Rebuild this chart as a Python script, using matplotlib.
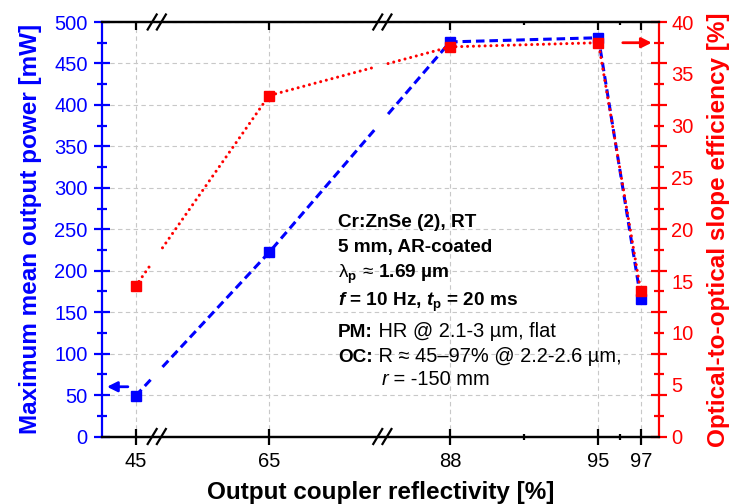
import numpy as np
import matplotlib
matplotlib.use("Agg")
import matplotlib.pyplot as plt
from matplotlib.ticker import FixedLocator, FixedFormatter, MultipleLocator

plt.rcParams['font.family'] = ['Liberation Sans', 'DejaVu Sans']
plt.rcParams['mathtext.fontset'] = 'custom'
plt.rcParams['mathtext.rm'] = 'Liberation Sans'
plt.rcParams['mathtext.it'] = 'Liberation Sans:italic'
plt.rcParams['mathtext.bf'] = 'Liberation Sans:bold'
plt.rcParams['mathtext.bfit'] = 'Liberation Sans:bold:italic'

# data
reflectivity = [45, 65, 88, 95, 97]
power_mw = [49, 222, 476, 481, 166]
efficiency = [14.5, 32.9, 37.6, 38.0, 14.0]
x_tick_labels = ["45", "65", "88", "95", "97"]
x_minor = [91.5, 96]
# visible pieces of the broken x axis
segments = [(43.4, 46.0), (59.7, 70.35), (84.8, 97.86)]

BLUE = "#0000ff"
RED = "#ff0000"

# piecewise scale for the broken axis
xp, fp, breaks = [], [], []
pos = 0.0
for lo, hi in segments:
    xp += [lo, hi]
    fp += [pos, pos + hi - lo]
    pos += hi - lo
    breaks.append(pos)
    pos += 1e-6
breaks = breaks[:-1]


def fwd(x):
    return np.interp(x, xp, fp)


def inv(p):
    return np.interp(p, fp, xp)


def with_gaps(x, y, g=0.27):
    px = fwd(np.asarray(x, float))
    xs, ys = [x[0]], [y[0]]
    for i in range(1, len(x)):
        for b in breaks:
            if px[i - 1] < b - g and px[i] > b + g:
                for k, p in enumerate((b - g, b + g)):
                    t = (p - px[i - 1]) / (px[i] - px[i - 1])
                    xs.append(inv(p))
                    ys.append(y[i - 1] + t * (y[i] - y[i - 1]))
                    if k == 0:
                        xs.append(np.nan)
                        ys.append(np.nan)
        xs.append(x[i])
        ys.append(y[i])
    return xs, ys


fig = plt.figure(figsize=(7.3, 5.04), dpi=100)
ax = fig.add_axes([101.7 / 730, 1 - 436.5 / 504, 557.3 / 730, 414.5 / 504])
ax.set_xscale('function', functions=(fwd, inv))
ax.set_xlim(segments[0][0], segments[-1][1])
ax.set_ylim(0, 500)
ax2 = ax.twinx()
ax2.set_ylim(0, 40)
ax3 = ax.twinx()   # only carries the red tick labels
ax3.set_ylim(0, 40)

# lines
bx, by = with_gaps(reflectivity, power_mw)
ax.plot(bx, by, color=BLUE, lw=2.2, dashes=(2.8, 1.6))
ax.plot(reflectivity, power_mw, ls='none', marker='s', ms=6.5, color=BLUE)
rx, ry = with_gaps(reflectivity, efficiency)
ax2.plot(rx, ry, color=RED, lw=2.2, dashes=(0.01, 1.9), dash_capstyle='round')
ax2.plot(reflectivity, efficiency, ls='none', marker='s', ms=6.5, color=RED)

# ticks
ax.xaxis.set_major_locator(FixedLocator(reflectivity))
ax.xaxis.set_major_formatter(FixedFormatter(x_tick_labels))
ax.xaxis.set_minor_locator(FixedLocator(x_minor))
ax.yaxis.set_major_locator(MultipleLocator(50))
ax.yaxis.set_minor_locator(MultipleLocator(25))
# red tick marks follow the left axis grid, labels sit at 5 % steps
ax2.yaxis.set_major_locator(MultipleLocator(4))
ax2.yaxis.set_minor_locator(MultipleLocator(2))
ax3.yaxis.set_major_locator(MultipleLocator(5))
ax3.yaxis.set_minor_locator(plt.NullLocator())

ax.tick_params(axis='x', which='major', direction='inout', length=12, width=1.6,
               top=False, labelsize=14.5, pad=5)
ax.tick_params(axis='x', which='minor', direction='inout', length=5, width=1.6, top=False)
ax2.xaxis.set_visible(True)
ax2.tick_params(axis='x', which='major', direction='in', length=6, width=1.6,
                top=True, bottom=False, labeltop=False, labelbottom=False)
ax2.tick_params(axis='x', which='minor', direction='in', length=2.5, width=1.6,
                top=True, bottom=False)
ax.tick_params(axis='y', which='major', direction='inout', length=12, width=1.6,
               color=BLUE, labelcolor=BLUE, labelsize=14.5, pad=4)
ax.tick_params(axis='y', which='minor', direction='inout', length=7, width=1.6, color=BLUE)
ax2.tick_params(axis='y', which='major', direction='inout', length=12, width=1.6,
                color=RED, labelright=False)
ax2.tick_params(axis='y', which='minor', direction='inout', length=7, width=1.6, color=RED)
ax3.tick_params(axis='y', which='major', length=0, labelcolor=RED, labelsize=14.5, pad=9)

for a in (ax, ax2):
    for s in a.spines.values():
        s.set_linewidth(1.6)
for s in ax3.spines.values():
    s.set_visible(False)
ax.spines['left'].set_color(BLUE)
ax.spines['right'].set_visible(False)
ax2.spines['left'].set_visible(False)
ax2.spines['right'].set_color(RED)

ax.grid(True, which='major', color='#c8c8c8', lw=0.8, ls=(0, (4, 3)))

# labels
ax.set_xlabel("Output coupler reflectivity [%]", fontsize=17.5, fontweight='bold', va='top')
ax.xaxis.set_label_coords(0.5, -0.107)
ax.set_ylabel("Maximum mean output power [mW]", fontsize=17.5, fontweight='bold', color=BLUE)
ax.yaxis.set_label_coords(-0.107, 0.5)
ax3.set_ylabel("Optical-to-optical slope efficiency [%]", fontsize=17.5, fontweight='bold',
               color=RED)
ax3.yaxis.set_label_coords(1.087, 0.5)

# arrows pointing at the axes
ax.annotate("", xy=(0.0095, 0.12), xytext=(0.047, 0.12), xycoords='axes fraction',
            arrowprops=dict(arrowstyle='-|>', color=BLUE, lw=2, mutation_scale=15,
                            shrinkA=0, shrinkB=0))
ax2.annotate("", xy=(0.987, 0.95), xytext=(0.935, 0.95), xycoords='axes fraction',
             arrowprops=dict(arrowstyle='-|>', color=RED, lw=2, mutation_scale=15,
                             shrinkA=0, shrinkB=0))

# break marks
w_px, h_px = 557.3, 414.5
p0, p1 = fwd(segments[0][0]), fwd(segments[-1][1])
for b in breaks:
    xc = (b - p0) / (p1 - p0)
    for yb in (0, 1):
        for off in (-4.6, 4.6):
            xs = [xc + (off - 4.5) / w_px, xc + (off + 4.5) / w_px]
            ys = [yb - 7.5 / h_px, yb + 7.5 / h_px]
            ax2.plot(xs, ys, color='black', lw=1.6, transform=ax2.transAxes,
                     clip_on=False, zorder=5)

# info text
fb = 13.7   # bold lines
fr = 14.4   # regular parts
tx = 0.424
ax2.text(tx, 0.5047, "Cr:ZnSe (2), RT", fontsize=fb, fontweight='bold', transform=ax2.transAxes)
ax2.text(tx, 0.4458, "5 mm, AR-coated", fontsize=fb, fontweight='bold', transform=ax2.transAxes)
ax2.text(tx, 0.3817, r"$\mathrm{\lambda}_\mathbf{p}\,\approx\,$1.69 µm", fontsize=fb,
         fontweight='bold', transform=ax2.transAxes)
ax2.text(tx, 0.3148, r"$\mathbfit{f}$ = 10 Hz, $\mathbfit{t}_\mathbf{p}$ = 20 ms", fontsize=fb,
         fontweight='bold', transform=ax2.transAxes)
t1 = ax2.text(tx, 0.2408, "PM:", fontsize=fb, fontweight='bold', transform=ax2.transAxes)
ax2.annotate(" HR @ 2.1-3 µm, flat", xy=(1, 0), xycoords=t1, va='bottom', fontsize=fr)
t2 = ax2.text(tx, 0.1805, "OC:", fontsize=fb, fontweight='bold', transform=ax2.transAxes)
ax2.annotate(" R ≈ 45–97% @ 2.2-2.6 µm,", xy=(1, 0), xycoords=t2, va='bottom', fontsize=fr)
t3 = ax2.text(0.5024, 0.1242, "r", fontsize=fr, style='italic', transform=ax2.transAxes)
ax2.annotate(" = -150 mm", xy=(1, 0), xycoords=t3, va='bottom', fontsize=fr)

fig.savefig("out.png", dpi=100)
